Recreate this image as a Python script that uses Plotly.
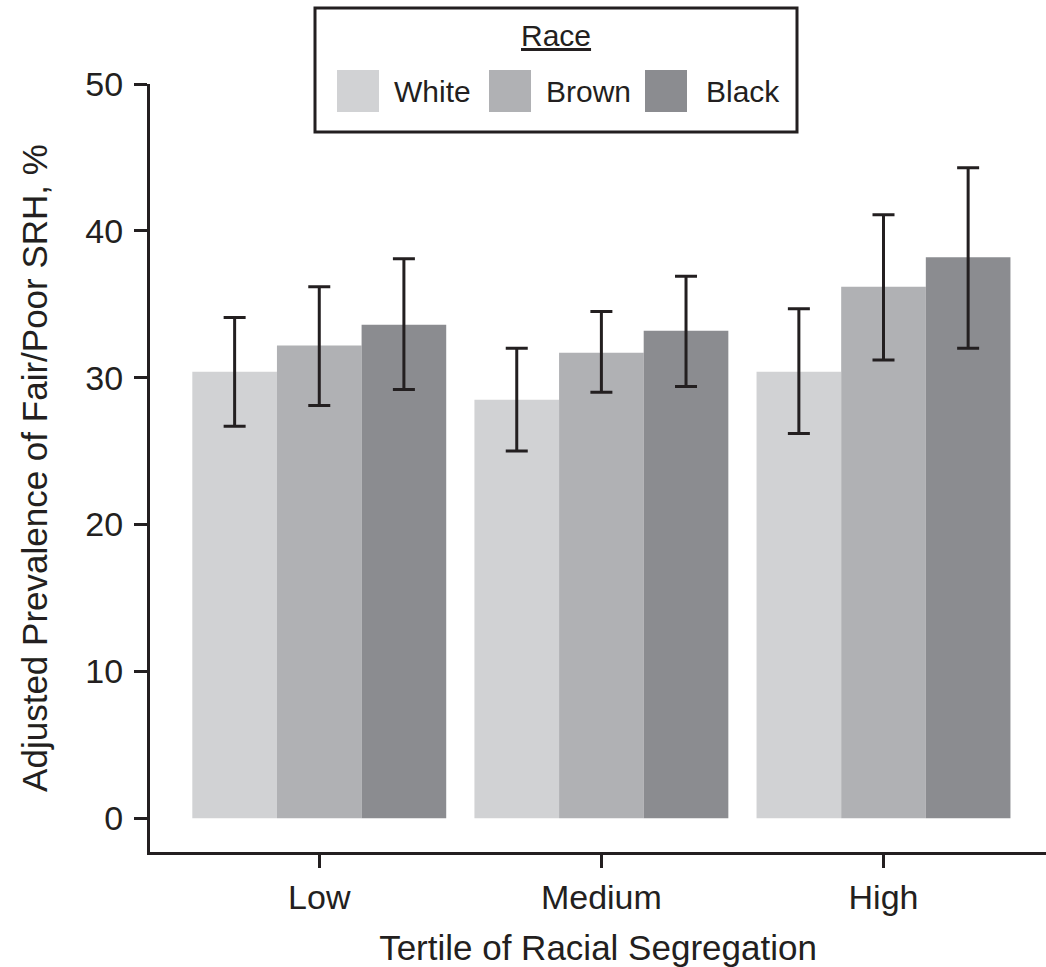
import plotly.graph_objects as go

categories = ["Low", "Medium", "High"]
races = ["White", "Brown", "Black"]
colors = ["#d1d2d4", "#b0b1b4", "#8b8c90"]

white_vals = [30.4, 28.5, 30.4]
white_hi = [34.1, 32.0, 34.7]
white_lo = [26.7, 25.0, 26.2]

brown_vals = [32.2, 31.7, 36.2]
brown_hi = [36.2, 34.5, 41.1]
brown_lo = [28.1, 29.0, 31.2]

black_vals = [33.6, 33.2, 38.2]
black_hi = [38.1, 36.9, 44.3]
black_lo = [29.2, 29.4, 32.0]

y_ticks = [0, 10, 20, 30, 40, 50]

series = [
    ("White", white_vals, white_hi, white_lo),
    ("Brown", brown_vals, brown_hi, brown_lo),
    ("Black", black_vals, black_hi, black_lo),
]

INK = "#231f20"
FONT = "Liberation Sans, Arial, Helvetica, sans-serif"

fig = go.Figure()
for (name, vals, hi, lo), col in zip(series, colors):
    fig.add_trace(go.Bar(
        x=categories, y=vals, name=name,
        marker=dict(color=col, line=dict(width=0)),
        error_y=dict(type="data", symmetric=False,
                     array=[h - v for h, v in zip(hi, vals)],
                     arrayminus=[v - l for v, l in zip(vals, lo)],
                     color=INK, thickness=3, width=11),
        showlegend=False,
    ))

W, H = 1046, 967
ML, MR, MT, MB = 150, 0, 84, 115
PW, PH = W - ML - MR, H - MT - MB


def px(x):
    return (x - ML) / PW


def py(y):
    return (H - MB - y) / PH


shapes = [
    dict(type="rect", xref="paper", yref="paper",
         x0=px(315), x1=px(797), y0=py(132), y1=py(8),
         line=dict(color=INK, width=3), fillcolor="white", layer="above"),
]
annotations = [
    dict(text="<u>Race</u>", xref="paper", yref="paper", x=px(556), y=py(35),
         xanchor="center", yanchor="middle", showarrow=False,
         font=dict(family=FONT, size=30, color=INK)),
]
sw_x = [337, 489, 645]
tx_x = [392, 544, 704]
for name, col, sx, tx in zip(races, colors, sw_x, tx_x):
    shapes.append(dict(type="rect", xref="paper", yref="paper",
                       x0=px(sx), x1=px(sx + 42), y0=py(112), y1=py(70),
                       line=dict(width=0), fillcolor=col, layer="above"))
    annotations.append(dict(text=name, xref="paper", yref="paper", x=px(tx), y=py(91),
                            xanchor="left", yanchor="middle", showarrow=False,
                            font=dict(family=FONT, size=30, color=INK)))

fig.update_layout(
    width=W, height=H,
    margin=dict(l=ML, r=MR, t=MT, b=MB, pad=0),
    paper_bgcolor="white", plot_bgcolor="white",
    barmode="group", bargap=0.1, bargroupgap=0,
    font=dict(family=FONT, color=INK),
    shapes=shapes, annotations=annotations,
    xaxis=dict(
        range=[-0.6, 2.576], showgrid=False, zeroline=False,
        showline=True, linecolor=INK, linewidth=3,
        ticks="outside", ticklen=13, tickwidth=3, tickcolor=INK,
        tickfont=dict(family=FONT, size=34, color=INK),
        title=dict(text="Tertile of Racial Segregation",
                   font=dict(family=FONT, size=35, color=INK), standoff=24),
    ),
    yaxis=dict(
        range=[-2.3, 50], tickvals=y_ticks, showgrid=False, zeroline=False,
        showline=True, linecolor=INK, linewidth=3,
        ticks="outside", ticklen=13, tickwidth=3, tickcolor=INK,
        ticklabelstandoff=4,
        tickfont=dict(family=FONT, size=34, color=INK),
        title=dict(text="Adjusted Prevalence of Fair/Poor SRH, %",
                   font=dict(family=FONT, size=35, color=INK), standoff=28),
    ),
)

fig.write_html("out.html")
